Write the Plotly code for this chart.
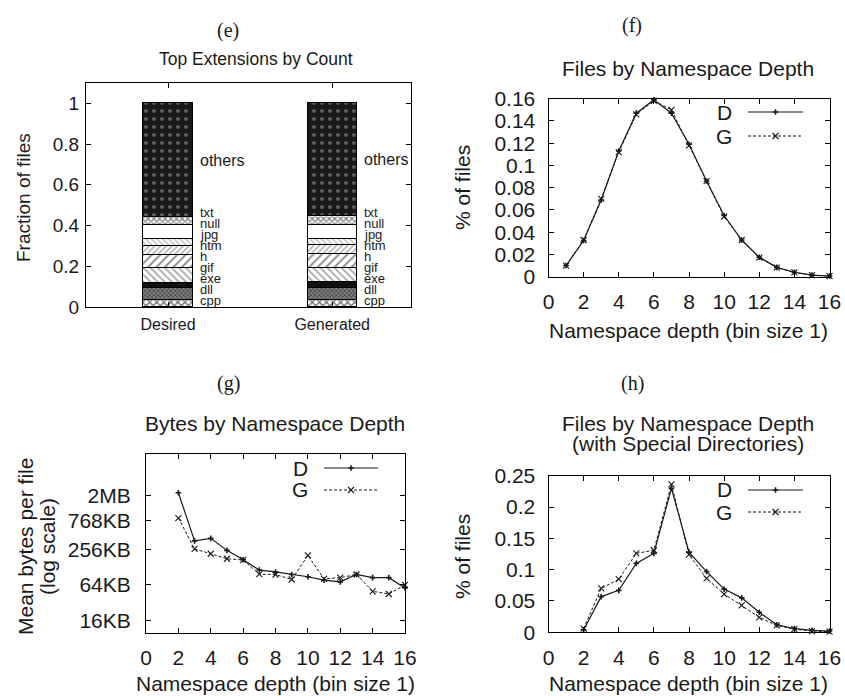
import math
import plotly.graph_objects as go

W, H = 845, 696

# ---------------- data ----------------
# (e) Top extensions by count (fraction of files, stacked)
bar_names = ["Desired", "Generated"]
extensions = ["cpp", "dll", "exe", "gif", "h", "htm", "jpg", "null", "txt", "others"]
desired_frac = [0.034, 0.058, 0.028, 0.070, 0.067, 0.043, 0.035, 0.067, 0.041, 0.557]
generated_frac = [0.034, 0.058, 0.030, 0.068, 0.068, 0.045, 0.033, 0.066, 0.043, 0.555]

# (f) Files by namespace depth
depth_f = list(range(1, 17))
files_D = [0.010, 0.0325, 0.069, 0.113, 0.147, 0.159, 0.147, 0.119, 0.086, 0.055,
           0.033, 0.0175, 0.0084, 0.004, 0.0015, 0.0006]
files_G = [0.010, 0.0330, 0.070, 0.112, 0.146, 0.158, 0.150, 0.118, 0.086, 0.054,
           0.033, 0.0172, 0.0082, 0.0038, 0.0014, 0.0005]

# (g) Mean bytes per file by namespace depth (KB)
depth_g = list(range(2, 17))
bytes_D_KB = [2300, 355, 391, 245, 170, 114, 106, 96, 88, 77, 72, 96, 85, 85, 57]
bytes_G_KB = [861, 259, 215, 177, 169, 97, 96, 79, 201, 81, 85, 96, 50, 45, 64]
bytes_tick_KB = [16, 64, 256, 768, 2048]
bytes_tick_text = ["16KB", "64KB", "256KB", "768KB", "2MB"]

# (h) Files by namespace depth with special directories
depth_h = list(range(2, 17))
spec_D = [0.004, 0.057, 0.067, 0.110, 0.126, 0.230, 0.128, 0.097, 0.069, 0.055,
          0.032, 0.012, 0.006, 0.003, 0.002]
spec_G = [0.006, 0.070, 0.085, 0.126, 0.131, 0.236, 0.124, 0.086, 0.061, 0.043,
          0.024, 0.011, 0.005, 0.002, 0.001]

# ---------------- styles ----------------
FONT = "Liberation Sans, Arial, Helvetica, sans-serif"
SERIF = "Liberation Serif, DejaVu Serif, serif"
INK = "#1a1a1a"
FS = 21

patterns = {
    "cpp":    dict(color="white", pattern=dict(shape="x", size=5, solidity=0.5, fgcolor="black", bgcolor="white")),
    "dll":    dict(color="#777", pattern=dict(shape="x", size=3, solidity=0.55, fgcolor="#111", bgcolor="#888")),
    "exe":    dict(color="#111", pattern=dict(shape="")),
    "gif":    dict(color="white", pattern=dict(shape="\\", size=5, solidity=0.35, fgcolor="#555", bgcolor="white")),
    "h":      dict(color="white", pattern=dict(shape="/", size=6, solidity=0.35, fgcolor="#222", bgcolor="white")),
    "htm":    dict(color="white", pattern=dict(shape="/", size=4, solidity=0.4, fgcolor="#666", bgcolor="white")),
    "jpg":    dict(color="white", pattern=dict(shape="\\", size=4, solidity=0.35, fgcolor="#777", bgcolor="white")),
    "null":   dict(color="white", pattern=dict(shape="")),
    "txt":    dict(color="white", pattern=dict(shape="x", size=4, solidity=0.5, fgcolor="black", bgcolor="white")),
    "others": dict(color="#1a1a1a", pattern=dict(shape=".", size=8, solidity=0.22, fgcolor="#9a9a9a", bgcolor="#1a1a1a")),
}


def px_x(p):
    return p / W


def px_y(p):
    return 1 - p / H


fig = go.Figure()

# ---------------- (e) stacked bars ----------------
for i, ext in enumerate(extensions):
    st = patterns[ext]
    fig.add_trace(go.Bar(
        x=bar_names, y=[desired_frac[i], generated_frac[i]], name=ext,
        width=0.3, xaxis="x", yaxis="y", showlegend=False,
        marker=dict(color=st["color"], pattern=st["pattern"],
                    line=dict(color="black", width=1)),
    ))

# segment labels (centered on segment, pushed up to avoid overlap)
annotations = []
for bi, fr in enumerate([desired_frac, generated_frac]):
    cum = 0
    prev = None
    for ext, v in zip(extensions, fr):
        mid = cum + v / 2
        cum += v
        pos = max(mid, 0.034 if prev is None else prev + 0.054)
        prev = pos
        annotations.append(dict(
            x=bi + 0.15, y=pos, xref="x", yref="y", text=ext, showarrow=False,
            xanchor="left", yanchor="middle", xshift=6, borderpad=0,
            font=dict(family=FONT, size=16 if ext == "others" else 13, color=INK)))

# ---------------- line panels ----------------
line_D = dict(color=INK, width=1.2)
line_G = dict(color=INK, width=1, dash="3px,2px")
mark_D = dict(symbol="cross-thin", size=4, line=dict(color=INK, width=1.6), color=INK)
mark_G = dict(symbol="x-thin", size=6, line=dict(color=INK, width=1.1), color=INK)

for xs, d, g, ax in [(depth_f, files_D, files_G, "2"),
                     (depth_g, bytes_D_KB, bytes_G_KB, "3"),
                     (depth_h, spec_D, spec_G, "4")]:
    fig.add_trace(go.Scatter(x=xs, y=g, mode="lines+markers", name="G", line=line_G,
                             marker=mark_G, xaxis="x" + ax, yaxis="y" + ax,
                             showlegend=False, cliponaxis=False))
    fig.add_trace(go.Scatter(x=xs, y=d, mode="lines+markers", name="D", line=line_D,
                             marker=mark_D, xaxis="x" + ax, yaxis="y" + ax,
                             showlegend=False, cliponaxis=False))

# panel frames in pixels: (left, right, top, bottom)
frames = {
    "1": (86, 411, 83, 307),
    "2": (548.5, 829.5, 98.7, 276.7),
    "3": (146, 405, 454.3, 632.7),
    "4": (548.5, 829.5, 475.7, 632.3),
}

common_axis = dict(showline=True, linecolor="black", linewidth=1, mirror="ticks",
                   ticks="inside", ticklen=5, tickwidth=1, tickcolor="black",
                   showgrid=False, zeroline=False, automargin=False,
                   tickfont=dict(family=FONT, size=FS, color=INK))

layout_axes = {}
for k, (l, r, t, b) in frames.items():
    xname = "xaxis" if k == "1" else "xaxis" + k
    yname = "yaxis" if k == "1" else "yaxis" + k
    layout_axes[xname] = dict(common_axis, domain=[px_x(l), px_x(r)],
                              anchor="y" if k == "1" else "y" + k)
    layout_axes[yname] = dict(common_axis, domain=[px_y(b), px_y(t)],
                              anchor="x" if k == "1" else "x" + k)

# (e)
layout_axes["xaxis"].update(type="category", range=[-0.5, 1.48], ticklabelstandoff=3,
                            tickfont=dict(family=FONT, size=16, color=INK))
layout_axes["yaxis"].update(range=[0, 1.1], tickvals=[0, 0.2, 0.4, 0.6, 0.8, 1],
                            ticktext=["0", "0.2", "0.4", "0.6", "0.8", "1"],
                            ticklabelstandoff=2,
                            tickfont=dict(family=FONT, size=19, color=INK))
# (f)
layout_axes["xaxis2"].update(range=[0, 16], dtick=2, tick0=0, ticklabelstandoff=6)
layout_axes["yaxis2"].update(range=[0, 0.16], tickvals=[0, 0.02, 0.04, 0.06, 0.08, 0.1, 0.12, 0.14, 0.16],
                             ticktext=["0", "0.02", "0.04", "0.06", "0.08", "0.1", "0.12", "0.14", "0.16"],
                             ticklabelstandoff=8)
# (g)
layout_axes["xaxis3"].update(range=[0, 16], dtick=2, tick0=0, ticklabelstandoff=6)
layout_axes["yaxis3"].update(type="log", range=[math.log10(10), math.log10(10240)],
                             tickvals=bytes_tick_KB, ticktext=bytes_tick_text,
                             ticklabelstandoff=10)
# (h)
layout_axes["xaxis4"].update(range=[0, 16], dtick=2, tick0=0, ticklabelstandoff=6)
layout_axes["yaxis4"].update(range=[0, 0.25], tickvals=[0, 0.05, 0.1, 0.15, 0.2, 0.25],
                             ticktext=["0", "0.05", "0.1", "0.15", "0.2", "0.25"],
                             ticklabelstandoff=8)

# ---------------- legends (helper axes) ----------------
legend_pos = {  # panel -> (line x0, line x1, D row y, G row y) in px
    "5": (748, 803, 112, 136),
    "6": (324, 378, 468, 490),
    "7": (748, 803, 490, 512),
}
for k, (x0, x1, yd, yg) in legend_pos.items():
    half = (yg - yd) / 2
    layout_axes["xaxis" + k] = dict(domain=[px_x(x0), px_x(x1)], range=[0, 1], automargin=False,
                                    visible=False, anchor="y" + k, fixedrange=True)
    layout_axes["yaxis" + k] = dict(domain=[px_y(yg + half), px_y(yd - half)], range=[-0.5, 1.5],
                                    automargin=False, visible=False, anchor="x" + k, fixedrange=True)
    fig.add_trace(go.Scatter(x=[0, 0.5, 1], y=[1, 1, 1], mode="lines", line=line_D,
                             xaxis="x" + k, yaxis="y" + k, showlegend=False, hoverinfo="skip"))
    fig.add_trace(go.Scatter(x=[0.5], y=[1], mode="markers", marker=mark_D,
                             xaxis="x" + k, yaxis="y" + k, showlegend=False, hoverinfo="skip"))
    fig.add_trace(go.Scatter(x=[0, 0.5, 1], y=[0, 0, 0], mode="lines", line=line_G,
                             xaxis="x" + k, yaxis="y" + k, showlegend=False, hoverinfo="skip"))
    fig.add_trace(go.Scatter(x=[0.5], y=[0], mode="markers", marker=mark_G,
                             xaxis="x" + k, yaxis="y" + k, showlegend=False, hoverinfo="skip"))
    for name, yy in (("D", yd), ("G", yg)):
        annotations.append(dict(x=px_x(x0 - 14), y=px_y(yy), xref="paper", yref="paper",
                                text=name, showarrow=False, xanchor="right", yanchor="middle",
                                font=dict(family=FONT, size=FS, color=INK)))


def text_at(txt, x, y, size, family=FONT, angle=0):
    annotations.append(dict(x=px_x(x), y=px_y(y), xref="paper", yref="paper", text=txt,
                            showarrow=False, xanchor="center", yanchor="middle", borderpad=0,
                            textangle=angle, font=dict(family=family, size=size, color=INK)))


# panel labels
text_at("(e)", 228, 30, 20, SERIF)
text_at("(f)", 632, 25, 20, SERIF)
text_at("(g)", 228, 383, 20, SERIF)
text_at("(h)", 632, 383, 20, SERIF)

# titles
text_at("Top Extensions by Count", 256, 59, 17.5)
text_at("Files by Namespace Depth", 688, 68, FS)
text_at("Bytes by Namespace Depth", 275, 423, FS)
text_at("Files by Namespace Depth", 688, 423, FS)
text_at("(with Special Directories)", 688, 443, FS)

# axis titles
text_at("Fraction of files", 23, 198, 19, angle=-90)
text_at("% of files", 462, 188, FS, angle=-90)
text_at("Namespace depth (bin size 1)", 688, 330, FS)
text_at("Mean bytes per file", 25, 547, FS, angle=-90)
text_at("(log scale)", 47, 547, FS, angle=-90)
text_at("Namespace depth (bin size 1)", 275, 683, FS)
text_at("% of files", 462, 557, FS, angle=-90)
text_at("Namespace depth (bin size 1)", 688, 683, FS)

fig.update_layout(
    width=W, height=H, margin=dict(l=0, r=0, t=0, b=0, autoexpand=False),
    paper_bgcolor="white", plot_bgcolor="rgba(0,0,0,0)",
    barmode="stack", bargap=0, showlegend=False,
    font=dict(family=FONT, color=INK),
    annotations=annotations,
    **layout_axes,
)

fig.write_html("out.html")
